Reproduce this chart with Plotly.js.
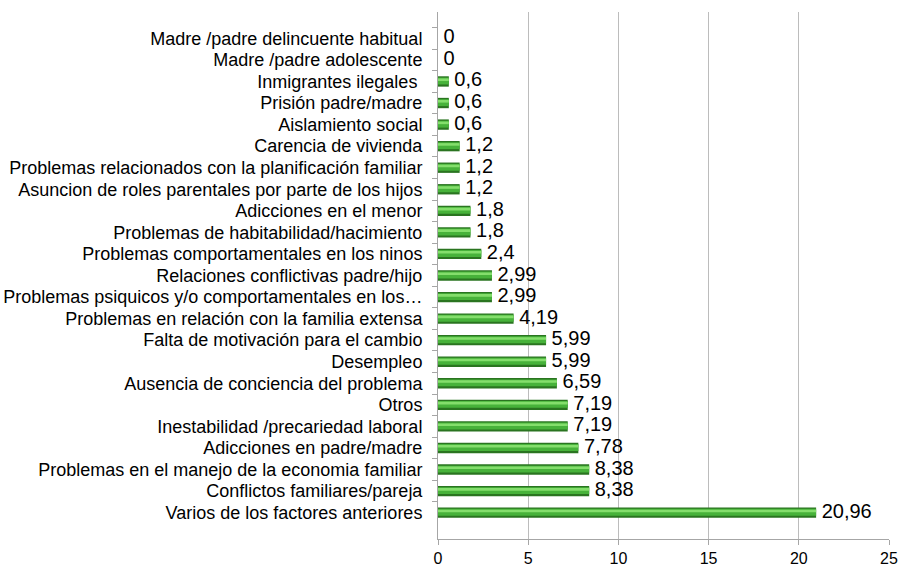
<!DOCTYPE html>
<html>
<head>
<meta charset="utf-8">
<script src="https://cdn.plot.ly/plotly-3.0.1.min.js"></script>
<style>html,body{margin:0;padding:0;background:#fff;}#chart{width:899px;height:568px;}</style>
</head>
<body>
<div id="chart"></div>
<script>
// Categories listed top to bottom
var categories = [
  "Madre /padre delincuente habitual",
  "Madre /padre adolescente",
  "Inmigrantes ilegales ",
  "Prisión padre/madre",
  "Aislamiento social",
  "Carencia de vivienda",
  "Problemas relacionados con la planificación familiar",
  "Asuncion de roles parentales por parte de los hijos",
  "Adicciones en el menor",
  "Problemas de habitabilidad/hacimiento",
  "Problemas comportamentales en los ninos",
  "Relaciones conflictivas padre/hijo",
  "Problemas psiquicos y/o comportamentales en los…",
  "Problemas en relación con la familia extensa",
  "Falta de motivación para el cambio",
  "Desempleo",
  "Ausencia de conciencia del problema",
  "Otros",
  "Inestabilidad /precariedad laboral",
  "Adicciones en padre/madre",
  "Problemas en el manejo de la economia familiar",
  "Conflictos familiares/pareja",
  "Varios de los factores anteriores"
];
var values = [0, 0, 0.6, 0.6, 0.6, 1.2, 1.2, 1.2, 1.8, 1.8, 2.4, 2.99, 2.99, 4.19, 5.99, 5.99, 6.59, 7.19, 7.19, 7.78, 8.38, 8.38, 20.96];
var xTicks = [0, 5, 10, 15, 20, 25];

var labels = values.map(function(v){ return ' ' + String(v).replace('.', ','); });

var traces = [
  {type:'bar', orientation:'h', x:values, y:categories, width:0.48,
   marker:{color:'#2a7420', line:{width:0}}, hoverinfo:'skip', showlegend:false},
  {type:'bar', orientation:'h', x:values, y:categories, width:0.32, offset:-0.18,
   marker:{color:'#47b23a', line:{width:0}}, hoverinfo:'skip', showlegend:false},
  {type:'bar', orientation:'h', x:values, y:categories, width:0.12, offset:-0.14,
   marker:{color:'#84de6c', line:{width:0}}, hoverinfo:'skip', showlegend:false},
  {type:'scatter', mode:'text', x:values, y:categories, text:labels,
   textposition:'middle right', cliponaxis:false,
   textfont:{family:'Liberation Sans, Arial, sans-serif', size:20, color:'#000'},
   hoverinfo:'skip', showlegend:false}
];

var layout = {
  width:899, height:568,
  margin:{l:438, r:10, t:12, b:29},
  paper_bgcolor:'#fff', plot_bgcolor:'#fff',
  barmode:'overlay',
  font:{family:'Liberation Sans, Arial, sans-serif', color:'#000'},
  xaxis:{
    range:[0,25], tickvals:xTicks, ticktext:xTicks.map(String),
    showgrid:true, gridcolor:'#bcbcbc', gridwidth:1,
    showline:true, linecolor:'#a6a6a6', linewidth:1,
    ticks:'outside', ticklen:5, tickcolor:'#a6a6a6',
    tickfont:{size:16, color:'#000'}, zeroline:false, fixedrange:true
  },
  yaxis:{
    type:'category', categoryorder:'array', categoryarray:categories,
    autorange:'reversed',
    tickmode:'linear', tick0:0, dtick:1,
    showline:true, linecolor:'#a6a6a6', linewidth:1,
    ticks:'outside', ticklen:5, tickcolor:'#a6a6a6', tickson:'boundaries',
    ticklabelstandoff:11,
    tickfont:{size:18, color:'#000'}, showgrid:false, zeroline:false, fixedrange:true
  }
};

Plotly.newPlot('chart', traces, layout, {displayModeBar:false, staticPlot:true});
</script>
</body>
</html>
